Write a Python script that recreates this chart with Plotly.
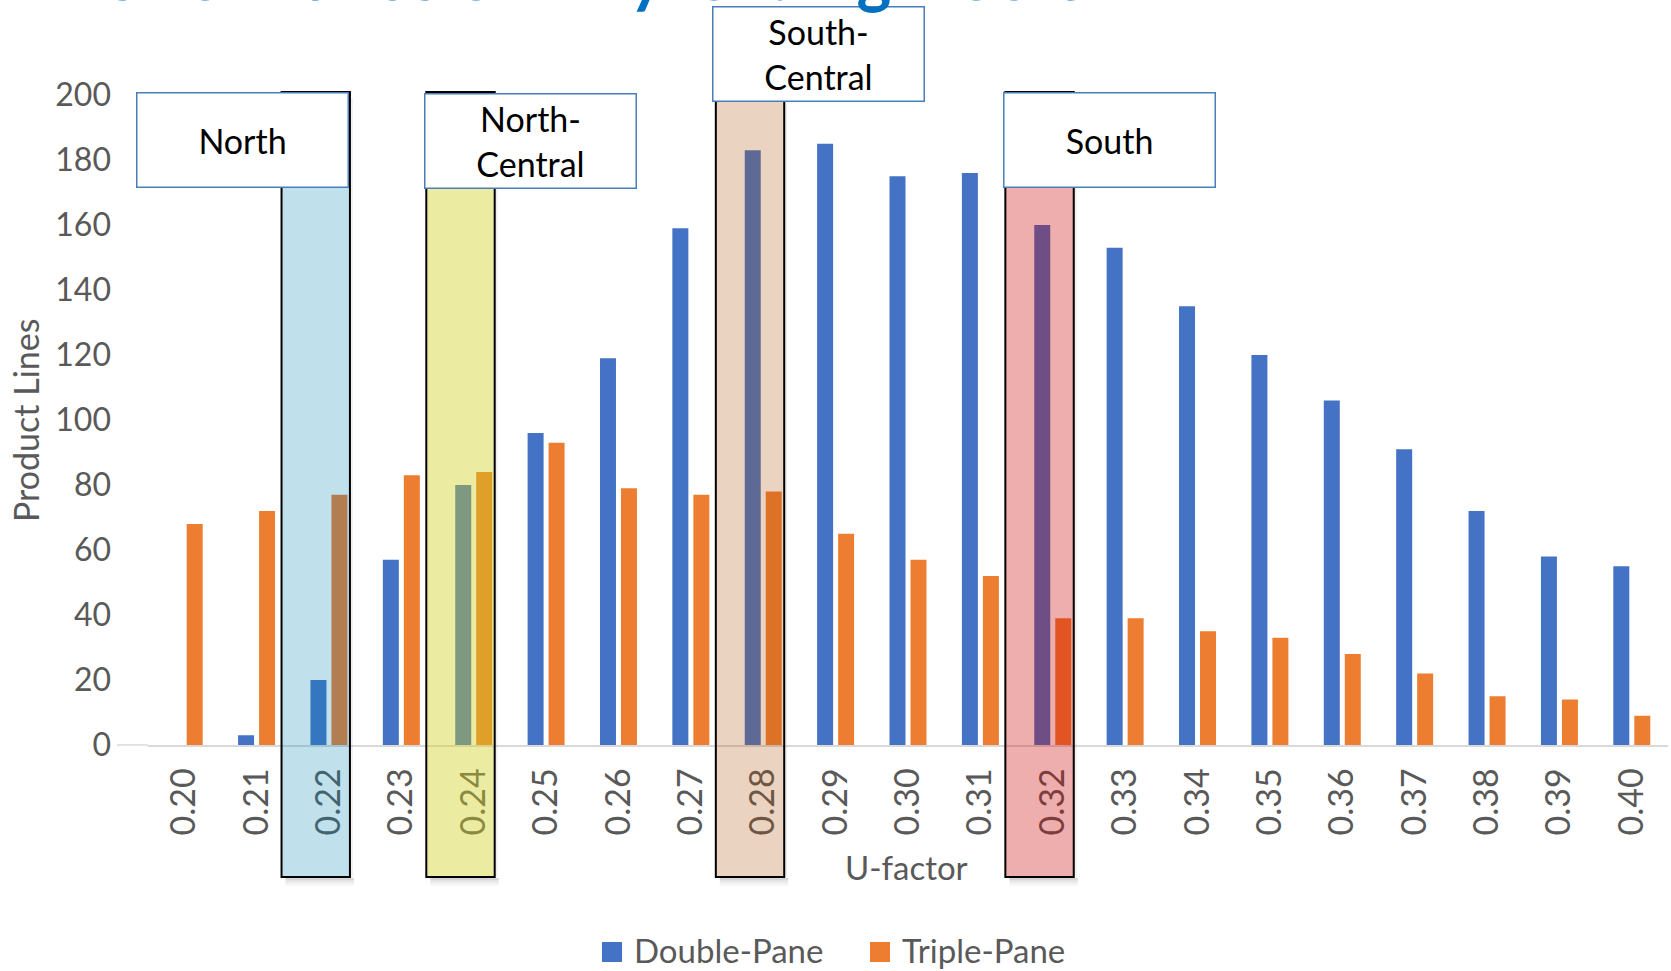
import plotly.graph_objects as go

# ---- data -------------------------------------------------------------
u_factor = ["0.20", "0.21", "0.22", "0.23", "0.24", "0.25", "0.26", "0.27",
            "0.28", "0.29", "0.30", "0.31", "0.32", "0.33", "0.34", "0.35",
            "0.36", "0.37", "0.38", "0.39", "0.40"]
double_pane = [0, 3, 20, 57, 80, 96, 119, 159, 183, 185, 175, 176, 160, 153,
               135, 120, 106, 91, 72, 58, 55]
triple_pane = [68, 72, 77, 83, 84, 93, 79, 77, 78, 65, 57, 52, 39, 39, 35, 33,
               28, 22, 15, 14, 9]
y_ticks = [0, 20, 40, 60, 80, 100, 120, 140, 160, 180, 200]

zone_names = ["North", "North-<br>Central", "South-<br>Central", "South"]
zone_u = ["0.22", "0.24", "0.28", "0.32"]

title_text = "Performance of Vinyl Sliding Doors"

# ---- styling / layout -------------------------------------------------
W, H = 1671, 971
PLOT_L, PLOT_R, PLOT_T, PLOT_B = 148, 1668, 95, 745
FONT = "Lato"
GREY = "#595959"
BLUE = "#4472C4"
ORANGE = "#ED7D31"

zone_fill = ["rgba(5,132,180,0.25)", "rgba(208,208,31,0.42)",
             "rgba(176,78,7,0.25)", "rgba(202,3,3,0.32)"]
# label box placement: centre offset (category units) and top edge (px)
box_center_off = [-1.19, 0.79, 0.77, 0.79]
box_top_px = [92, 93, 6, 92]
BOX_W, BOX_H = 210, 93
# highlight column extent relative to the category centre
RECT_L, RECT_R = -0.655, 0.29
RECT_TOP_PX, RECT_BOT_PX = 92, 877

cat_px = (PLOT_R - PLOT_L) / len(u_factor)


def px_x(px):
    return (px - PLOT_L) / (PLOT_R - PLOT_L)


def px_y(py):
    return (PLOT_B - py) / (PLOT_B - PLOT_T)


fig = go.Figure()
fig.add_trace(go.Bar(name="Double-Pane", x=u_factor, y=double_pane,
                     marker=dict(color=BLUE, line=dict(width=0)),
                     showlegend=False))
fig.add_trace(go.Bar(name="Triple-Pane", x=u_factor, y=triple_pane,
                     marker=dict(color=ORANGE, line=dict(width=0)),
                     showlegend=False))

shapes = []
annotations = []

# category axis line continues a little to the left of the first column
shapes.append(dict(type="line", xref="paper", yref="paper",
                   x0=px_x(117), x1=0, y0=0, y1=0,
                   line=dict(color="#D9D9D9", width=1.5)))

# highlighted climate-zone columns with soft drop shadow
for k, (name, u) in enumerate(zip(zone_names, zone_u)):
    i = u_factor.index(u)
    x0, x1 = i + RECT_L, i + RECT_R
    off = 4 / cat_px
    for j, a in enumerate([0.16, 0.10, 0.06, 0.03]):
        shapes.append(dict(type="rect", xref="x", yref="paper",
                           x0=x0 + off, x1=x1 + off,
                           y0=px_y(RECT_BOT_PX + 1 + 2 * j),
                           y1=px_y(RECT_BOT_PX + 3 + 2 * j),
                           fillcolor=f"rgba(0,0,0,{a})", line=dict(width=0),
                           layer="above"))
    shapes.append(dict(type="rect", xref="x", yref="paper",
                       x0=x1, x1=x1 + 3 / cat_px,
                       y0=px_y(RECT_BOT_PX), y1=px_y(RECT_TOP_PX + 6),
                       fillcolor="rgba(0,0,0,0.06)", line=dict(width=0),
                       layer="above"))
    shapes.append(dict(type="rect", xref="x", yref="paper",
                       x0=x0, x1=x1,
                       y0=px_y(RECT_BOT_PX), y1=px_y(RECT_TOP_PX),
                       fillcolor=zone_fill[k],
                       line=dict(color="black", width=2), layer="above"))
    annotations.append(dict(text=name, xref="x", yref="paper",
                            x=i + box_center_off[k], xanchor="center",
                            y=px_y(box_top_px[k]), yanchor="top",
                            width=BOX_W, height=BOX_H, showarrow=False,
                            bgcolor="white", bordercolor="#4A7EBB",
                            borderwidth=1.5, borderpad=0, align="center",
                            valign="middle",
                            font=dict(family=FONT, size=34, color="black")))

# chart title (runs off the top edge)
annotations.append(dict(text=f"<b>{title_text}</b>", xref="paper",
                        yref="paper", x=px_x(62), xanchor="left",
                        y=px_y(16), yanchor="bottom", showarrow=False,
                        font=dict(family=FONT, size=66, color="#0070C0")))

# axis titles
annotations.append(dict(text="Product Lines", xref="paper", yref="paper",
                        x=px_x(26), y=px_y(421), textangle=-90,
                        showarrow=False, xanchor="center", yanchor="middle",
                        font=dict(family=FONT, size=34, color=GREY)))
annotations.append(dict(text="U-factor", xref="paper", yref="paper",
                        x=px_x(906), y=px_y(867), showarrow=False,
                        xanchor="center", yanchor="middle",
                        font=dict(family=FONT, size=33, color=GREY)))

# legend
for name, color, sq_px, txt_px in [("Double-Pane", BLUE, 602, 632),
                                   ("Triple-Pane", ORANGE, 870, 900)]:
    shapes.append(dict(type="rect", xref="paper", yref="paper",
                       x0=px_x(sq_px), x1=px_x(sq_px + 20),
                       y0=px_y(962), y1=px_y(942), fillcolor=color,
                       line=dict(width=0)))
    annotations.append(dict(text=name, xref="paper", yref="paper",
                            x=px_x(txt_px), y=px_y(950), xanchor="left",
                            yanchor="middle", showarrow=False,
                            font=dict(family=FONT, size=33, color=GREY)))

fig.update_layout(
    width=W, height=H,
    margin=dict(l=PLOT_L, r=W - PLOT_R, t=PLOT_T, b=H - PLOT_B),
    paper_bgcolor="white", plot_bgcolor="white",
    barmode="group", bargap=0.42, bargroupgap=0.238,
    font=dict(family=FONT, color=GREY),
    shapes=shapes, annotations=annotations,
    showlegend=False,
)
fig.update_xaxes(type="category", range=[-0.5, len(u_factor) - 0.5],
                 tickangle=-90, tickfont=dict(family=FONT, size=34, color=GREY),
                 showgrid=False, zeroline=False, showline=True,
                 linecolor="#D9D9D9", linewidth=1.5, ticks="",
                 ticklabelstandoff=8)
fig.update_yaxes(range=[0, 200], tickvals=y_ticks,
                 tickfont=dict(family=FONT, size=32, color=GREY),
                 showgrid=False, zeroline=False, showline=False, ticks="",
                 ticklabelstandoff=36)

fig.write_html("out.html")
